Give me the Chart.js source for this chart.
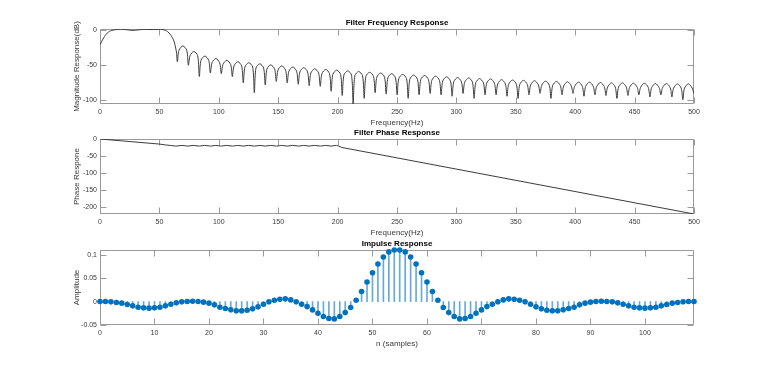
<!DOCTYPE html>
<html>
<head>
<meta charset="utf-8">
<title>Filter response</title>
<script src="https://cdn.jsdelivr.net/npm/chart.js@4.4.1/dist/chart.umd.min.js"></script>
<style>
  html, body { margin: 0; padding: 0; background: #ffffff; }
  #page { position: relative; width: 768px; height: 369px; overflow: hidden; }
  .plot { position: absolute; left: 0; width: 768px; }
</style>
</head>
<body>
<div id="page">
  <div class="plot" style="top:0;height:129px"><canvas id="magChart"></canvas></div>
  <div class="plot" style="top:112px;height:127px"><canvas id="phaseChart"></canvas></div>
  <div class="plot" style="top:222px;height:147px"><canvas id="impulseChart"></canvas></div>
</div>
<script>
// tick labels
var freqTicks = [0, 50, 100, 150, 200, 250, 300, 350, 400, 450, 500];
var magTicks = [-100, -50, 0];
var phaseTicks = [-200, -150, -100, -50, 0];
var sampleTicks = [0, 10, 20, 30, 40, 50, 60, 70, 80, 90, 100];
var ampTicks = [-0.05, 0, 0.05, 0.1];

// magnitude: passband and transition band
var passHz = [0, 1.5, 3, 4.5, 6, 8, 10, 12, 15, 18, 21, 24, 27, 30, 33, 36, 39, 42, 45, 48, 51, 53, 55, 57, 59, 61, 62.5, 63.5, 64.5];
var passDb = [-21, -16, -11.5, -7.5, -4.5, -2, -0.6, 0.2, 0.8, 1, 0.7, 0, -0.5, -0.3, 0.3, 0.8, 0.9, 0.6, 0.6, 0.9, 1, 0.6, -0.5, -2.5, -6, -11, -17, -24, -33];

// magnitude: stopband nulls, and the top / side level of each lobe between two nulls
var nullHz = [65.1, 74.4, 83.6, 92.9, 102.1, 111.4, 120.6, 129.9, 139.1, 148.4, 157.6, 166.9, 176.1, 185.4, 194.6, 203.9,
  213.1, 222.4, 231.6, 240.9, 250.1, 259.4, 268.6, 277.9, 287.1, 296.4, 305.6, 314.9, 324.1, 333.4, 342.6, 351.9,
  361.1, 370.4, 379.6, 388.9, 398.1, 407.4, 416.6, 425.9, 435.1, 444.4, 453.6, 462.9, 472.1, 481.4, 490.6, 499.9];
var nullDb = [-45, -50, -66, -61, -62, -66, -75, -89, -78, -73, -75, -77, -79, -80, -87, -93,
  -105, -97, -89, -91, -92, -97, -92, -90, -92, -94, -90, -97, -92, -92, -94, -97,
  -92, -90, -97, -92, -90, -94, -92, -93, -97, -93, -92, -95, -92, -95, -99, -90];
var lobePeakDb = [-22.7, -30.5, -37, -40.5, -43, -45, -46.5, -48, -49.5, -51, -52.5, -53.5, -55, -56, -57, -58,
  -59, -60, -61, -62, -63, -64, -64.5, -65.5, -66.5, -67.5, -68, -69, -69.5, -70.5, -71, -71.5,
  -72, -72.5, -73, -73.5, -74, -74, -74.5, -75, -75, -75.5, -75.5, -76, -76, -76.5, -76.5];
var lobeSideDb = [-28.7, -36.5, -43, -46.5, -49, -51, -52.5, -54, -55.5, -57, -58.5, -59.5, -61, -62, -63, -64,
  -65, -66, -67, -68, -69, -70, -70.5, -71.5, -72.5, -73.5, -74, -75, -75.5, -76.5, -77, -77.5,
  -78, -78.5, -79, -79.5, -80, -80, -80.5, -81, -81, -81.5, -81.5, -82, -82, -82.5, -82.5];

// phase
var phaseHz = [0, 50, 55, 59, 64, 69, 74, 78.5, 83.5, 88, 93, 97.5, 102, 106.5, 111.5, 116, 120.5, 125, 130, 134.5,
  139, 143.5, 148.5, 153, 157.5, 162, 167, 171.5, 176, 180.5, 185.5, 190, 194.5, 199, 201, 203.5, 500];
var phaseDeg = [0, -15, -17.5, -19, -21, -19, -21, -19, -21, -19, -21, -19, -21, -19, -21, -19, -21, -19, -21, -19,
  -21, -19, -21, -19, -21, -19, -21, -19, -21, -19, -21, -19, -21, -19, -21, -25, -222];

// impulse response h[n], n = 0..109
var impulse = [
  0, 0, -0.0006, -0.002, -0.0034, -0.0063, -0.0091, -0.012, -0.0134, -0.0141,
  -0.0134, -0.012, -0.0091, -0.0056, -0.0027, -0.0006, 0.0001, 0.0008, 0, -0.0013,
  -0.0034, -0.007, -0.012, -0.0148, -0.0177, -0.0198, -0.0198, -0.0184, -0.0155, -0.0113,
  -0.0056, -0.0006, 0.0029, 0.005, 0.0058, 0.0036, -0.0006, -0.0056, -0.0107, -0.0178,
  -0.025, -0.032, -0.036, -0.037, -0.032, -0.0235, -0.0128, 0.0029, 0.0215, 0.0416,
  0.0616, 0.0802, 0.0952, 0.106, 0.11, 0.11, 0.106, 0.0952, 0.0802, 0.0616,
  0.0416, 0.0215, 0.0029, -0.0128, -0.0235, -0.032, -0.037, -0.036, -0.032, -0.025,
  -0.0178, -0.0107, -0.0056, -0.0006, 0.0036, 0.0058, 0.005, 0.0029, -0.0006, -0.0056,
  -0.0113, -0.0155, -0.0184, -0.0198, -0.0198, -0.0177, -0.0148, -0.012, -0.007, -0.0034,
  -0.0013, 0, 0.0008, 0.0001, -0.0006, -0.0027, -0.0056, -0.0091, -0.012, -0.0134,
  -0.0141, -0.0134, -0.012, -0.0091, -0.0063, -0.0034, -0.002, -0.0006, 0, 0
];

var FONT = '"Liberation Sans", Arial, sans-serif';
var textColor = '#3a3a3a';
var boxColor = '#9a9a9a';
var tickLen = 6;

// MATLAB style box: border, inward ticks on all four sides, bold title, rotated y label
var matlabAxes = {
  id: 'matlabAxes',
  beforeDatasetsDraw: function (chart) {
    var ctx = chart.ctx, a = chart.chartArea;
    var xs = chart.scales.x, ys = chart.scales.y;
    var l = Math.round(a.left) + 0.5, r = Math.round(a.right) - 0.5;
    var t = Math.round(a.top) + 0.5, b = Math.round(a.bottom) - 0.5;
    ctx.save();
    ctx.strokeStyle = boxColor;
    ctx.lineWidth = 1;
    ctx.beginPath();
    ctx.rect(l, t, r - l, b - t);
    xs.ticks.forEach(function (tk) {
      var px = Math.round(xs.getPixelForValue(tk.value)) + 0.5;
      ctx.moveTo(px, b); ctx.lineTo(px, b - tickLen);
      ctx.moveTo(px, t); ctx.lineTo(px, t + tickLen);
    });
    ys.ticks.forEach(function (tk) {
      var py = Math.round(ys.getPixelForValue(tk.value)) + 0.5;
      ctx.moveTo(l, py); ctx.lineTo(l + tickLen, py);
      ctx.moveTo(r, py); ctx.lineTo(r - tickLen, py);
    });
    ctx.stroke();
    ctx.restore();
  },
  afterDraw: function (chart, args, opts) {
    var ctx = chart.ctx, a = chart.chartArea;
    ctx.save();
    ctx.textAlign = 'center';
    ctx.textBaseline = 'middle';
    ctx.fillStyle = '#000';
    ctx.font = 'bold 8px ' + FONT;
    ctx.fillText(opts.title, (a.left + a.right) / 2, a.top - 6);
    ctx.fillStyle = textColor;
    ctx.font = '8px ' + FONT;
    ctx.translate(a.left - 23.5, (a.top + a.bottom) / 2);
    ctx.rotate(-Math.PI / 2);
    ctx.fillText(opts.yTitle, 0, 0);
    ctx.restore();
  }
};

function xAxis(min, max, ticks, title) {
  return {
    type: 'linear', min: min, max: max, offset: false,
    afterBuildTicks: function (s) { s.ticks = ticks.map(function (v) { return { value: v }; }); },
    ticks: { font: { family: FONT, size: 7 }, color: textColor, padding: 3.5, maxRotation: 0, autoSkip: false,
      callback: function (v) { return String(v); } },
    grid: { display: false, drawTicks: false },
    border: { display: false },
    title: { display: true, text: title, font: { family: FONT, size: 8 }, color: textColor, padding: { top: 0, bottom: 1.2 } },
    afterFit: function (s) { s.height = 25; }
  };
}

function yAxis(min, max, ticks) {
  return {
    type: 'linear', min: min, max: max,
    afterBuildTicks: function (s) { s.ticks = ticks.map(function (v) { return { value: v }; }); },
    ticks: { font: { family: FONT, size: 7 }, color: textColor, padding: 3,
      callback: function (v) { return String(v); } },
    grid: { display: false, drawTicks: false },
    border: { display: false },
    afterFit: function (s) { s.width = 40; }
  };
}

function baseOptions(padTop, padBottom, xs, ys, title, yTitle) {
  return {
    responsive: true,
    maintainAspectRatio: false,
    animation: false,
    layout: { padding: { left: 60, right: 74, top: padTop, bottom: padBottom } },
    scales: { x: xs, y: ys },
    plugins: {
      legend: { display: false },
      tooltip: { enabled: false },
      matlabAxes: { title: title, yTitle: yTitle }
    }
  };
}

// magnitude curve: passband points, then every lobe as null - side - top - side
var magPoints = [];
for (var i = 0; i < passHz.length; i++) {
  magPoints.push({ x: passHz[i], y: passDb[i] });
}
for (var k = 0; k < lobePeakDb.length; k++) {
  var f0 = nullHz[k], w = nullHz[k + 1] - nullHz[k];
  magPoints.push({ x: f0, y: nullDb[k] });
  magPoints.push({ x: f0 + 0.15 * w, y: lobeSideDb[k] });
  magPoints.push({ x: f0 + 0.5 * w, y: lobePeakDb[k] });
  magPoints.push({ x: f0 + 0.85 * w, y: lobeSideDb[k] });
}
magPoints.push({ x: nullHz[nullHz.length - 1], y: nullDb[nullDb.length - 1] });

new Chart(document.getElementById('magChart'), {
  type: 'scatter',
  data: {
    datasets: [{
      data: magPoints,
      showLine: true,
      borderColor: '#3c3c3c',
      borderWidth: 1,
      pointRadius: 0,
      tension: 0.3
    }]
  },
  options: baseOptions(29, 0, xAxis(0, 500, freqTicks, 'Frequency(Hz)'), yAxis(-105, 1.4, magTicks),
    'Filter Frequency Response', 'Magnitude Response(dB)'),
  plugins: [matlabAxes]
});

var phasePoints = phaseHz.map(function (f, i) { return { x: f, y: phaseDeg[i] }; });

new Chart(document.getElementById('phaseChart'), {
  type: 'scatter',
  data: {
    datasets: [{
      data: phasePoints,
      showLine: true,
      borderColor: '#3c3c3c',
      borderWidth: 1,
      pointRadius: 0
    }]
  },
  options: baseOptions(27, 0, xAxis(0, 500, freqTicks, 'Frequency(Hz)'), yAxis(-222, 0, phaseTicks),
    'Filter Phase Response', 'Phase Respone'),
  plugins: [matlabAxes]
});

var impPoints = impulse.map(function (v, n) { return { x: n, y: v }; });

new Chart(document.getElementById('impulseChart'), {
  type: 'scatter',
  data: {
    datasets: [{
      type: 'bar',
      data: impPoints,
      backgroundColor: 'rgba(0, 114, 189, 0.6)',
      borderWidth: 0,
      barThickness: 1,
      grouped: false
    }, {
      type: 'scatter',
      data: impPoints,
      pointRadius: 2.8,
      pointBackgroundColor: '#0072BD',
      pointBorderWidth: 0,
      clip: false
    }]
  },
  options: baseOptions(28, 19, xAxis(0, 109, sampleTicks, 'n (samples)'), yAxis(-0.05, 0.11, ampTicks),
    'Impulse Response', 'Amplitude'),
  plugins: [matlabAxes]
});
</script>
</body>
</html>
